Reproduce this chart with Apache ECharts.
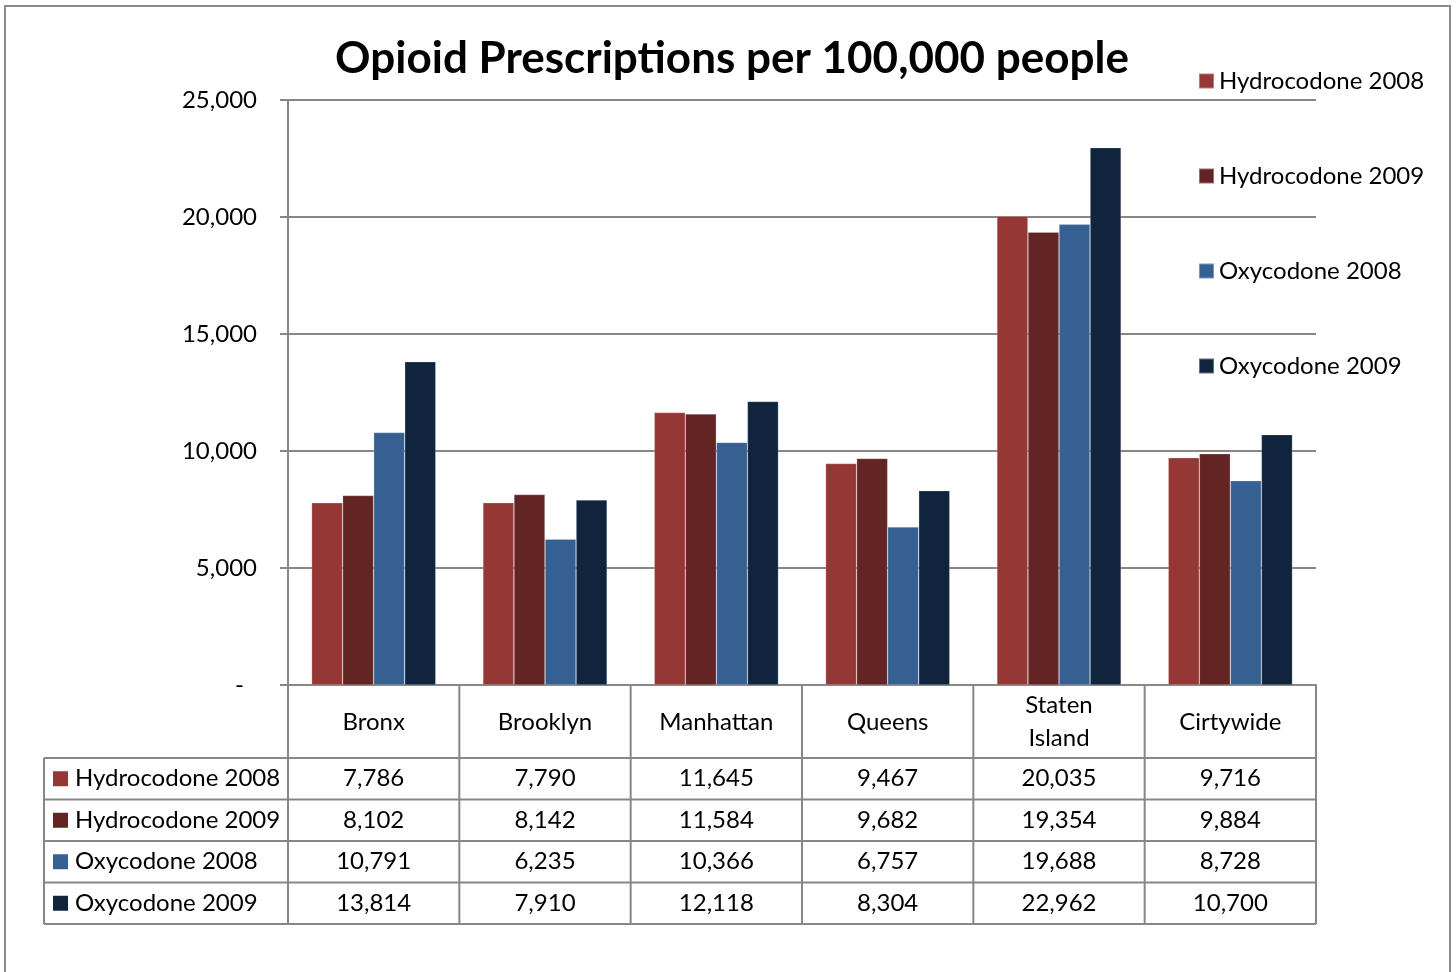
<!DOCTYPE html>
<html>
<head>
<meta charset="utf-8">
<title>Opioid Prescriptions per 100,000 people</title>
<script src="https://cdn.jsdelivr.net/npm/echarts@6/dist/echarts.min.js"></script>
<style>
  html, body { margin: 0; padding: 0; background: #fff; }
  #chart { width: 1456px; height: 972px; }
</style>
</head>
<body>
<div id="chart"></div>
<script>
// Boroughs shown along the category axis
const categories = ['Bronx', 'Brooklyn', 'Manhattan', 'Queens', 'Staten\nIsland', 'Cirtywide'];

// Prescriptions per 100,000 people
const seriesNames = ['Hydrocodone 2008', 'Hydrocodone 2009', 'Oxycodone 2008', 'Oxycodone 2009'];
const hydrocodone2008 = [7786, 7790, 11645, 9467, 20035, 9716];
const hydrocodone2009 = [8102, 8142, 11584, 9682, 19354, 9884];
const oxycodone2008 = [10791, 6235, 10366, 6757, 19688, 8728];
const oxycodone2009 = [13814, 7910, 12118, 8304, 22962, 10700];

const yTicks = [0, 5000, 10000, 15000, 20000, 25000];

const seriesValues = [hydrocodone2008, hydrocodone2009, oxycodone2008, oxycodone2009];
const colors = ['#953735', '#632523', '#376092', '#10243e'];

const FONT = 'Lato';
const FS = 24;
const GRID_COLOR = '#878787';

const fmt = v => v.toLocaleString('en-US');

const chart = echarts.init(document.getElementById('chart'), null, { renderer: 'canvas' });

const option = {
  backgroundColor: '#ffffff',
  animation: false,
  color: colors,
  textStyle: { fontFamily: FONT, color: '#000' },
  title: {
    text: 'Opioid Prescriptions per 100,000 people',
    left: 727,
    textAlign: 'center',
    top: 32,
    textStyle: { fontFamily: FONT, fontWeight: 'bold', fontSize: 44, color: '#000' }
  },
  legend: {
    orient: 'vertical',
    left: 1193,
    top: 64,
    itemWidth: 15,
    itemHeight: 15,
    itemGap: 71,
    icon: 'rect',
    textStyle: { fontFamily: FONT, fontSize: FS, color: '#000' },
    data: seriesNames
  },
  grid: { left: 288, right: 140, top: 100, bottom: 287, containLabel: false },
  xAxis: {
    type: 'category',
    data: categories,
    axisLine: { show: true, lineStyle: { color: GRID_COLOR, width: 2 } },
    axisTick: { show: false },
    axisLabel: {
      margin: 37,
      verticalAlign: 'middle',
      fontFamily: FONT,
      fontSize: FS,
      color: '#000',
      lineHeight: 33
    }
  },
  yAxis: {
    type: 'value',
    min: yTicks[0],
    max: yTicks[yTicks.length - 1],
    interval: 5000,
    axisLine: { show: true, lineStyle: { color: GRID_COLOR, width: 2 } },
    axisTick: { show: true, length: 8, lineStyle: { color: GRID_COLOR, width: 2 } },
    splitLine: { show: true, lineStyle: { color: GRID_COLOR, width: 2 } },
    axisLabel: {
      margin: 31,
      fontFamily: FONT,
      fontSize: FS,
      color: '#000',
      formatter: v => (v === 0 ? '{z|-}' : fmt(v)),
      rich: { z: { fontFamily: FONT, fontSize: FS, color: '#000', padding: [0, 13, 0, 0] } }
    }
  },
  series: seriesNames.map((name, i) => ({
    name,
    type: 'bar',
    data: seriesValues[i],
    barGap: '0%',
    barCategoryGap: '27.5%',
    itemStyle: { color: colors[i], borderColor: 'rgba(255,255,255,0.35)', borderWidth: 0.6 }
  }))
};

chart.setOption(option);

// Data table under the plot, aligned to the category bands
function buildTable() {
  const c0 = chart.convertToPixel({ xAxisIndex: 0 }, 0);
  const c1 = chart.convertToPixel({ xAxisIndex: 0 }, 1);
  const band = c1 - c0;
  const axisY = chart.convertToPixel({ yAxisIndex: 0 }, 0);
  const leftX = c0 - band / 2;
  const rightX = leftX + band * categories.length;
  const tableLeft = 44;
  const headerBottom = axisY + 73;
  const rowH = 41.5;
  const tableBottom = headerBottom + rowH * seriesNames.length;
  const lineStyle = { stroke: GRID_COLOR, lineWidth: 2 };
  const els = [];

  // Column separators, including both ends of the plot
  for (let k = 0; k <= categories.length; k++) {
    const x = leftX + band * k;
    els.push({ type: 'line', shape: { x1: x, y1: axisY, x2: x, y2: tableBottom }, style: lineStyle, silent: true });
  }
  // Row separators
  for (let r = 0; r <= seriesNames.length; r++) {
    const y = headerBottom + rowH * r;
    els.push({ type: 'line', shape: { x1: tableLeft, y1: y, x2: rightX, y2: y }, style: lineStyle, silent: true });
  }
  els.push({ type: 'line', shape: { x1: tableLeft, y1: headerBottom, x2: tableLeft, y2: tableBottom }, style: lineStyle, silent: true });

  // Row headers with colour keys, and values
  seriesNames.forEach((name, r) => {
    const cy = headerBottom + rowH * r + rowH / 2;
    els.push({ type: 'rect', shape: { x: 53, y: cy - 7.5, width: 15, height: 15 }, style: { fill: colors[r] }, silent: true });
    els.push({
      type: 'text', x: 75, y: cy,
      style: { text: name, fontFamily: FONT, fontSize: FS, fill: '#000', verticalAlign: 'middle', align: 'left' },
      silent: true
    });
    seriesValues[r].forEach((v, k) => {
      els.push({
        type: 'text', x: leftX + band * (k + 0.5), y: cy,
        style: { text: fmt(v), fontFamily: FONT, fontSize: FS, fill: '#000', verticalAlign: 'middle', align: 'center' },
        silent: true
      });
    });
  });

  // Chart frame
  els.push({ type: 'rect', shape: { x: 5, y: 6, width: 1445, height: 1000 }, style: { fill: 'none', stroke: '#8c8c8c', lineWidth: 2 }, silent: true });

  chart.setOption({ graphic: { elements: els } });
}

buildTable();
</script>
</body>
</html>
